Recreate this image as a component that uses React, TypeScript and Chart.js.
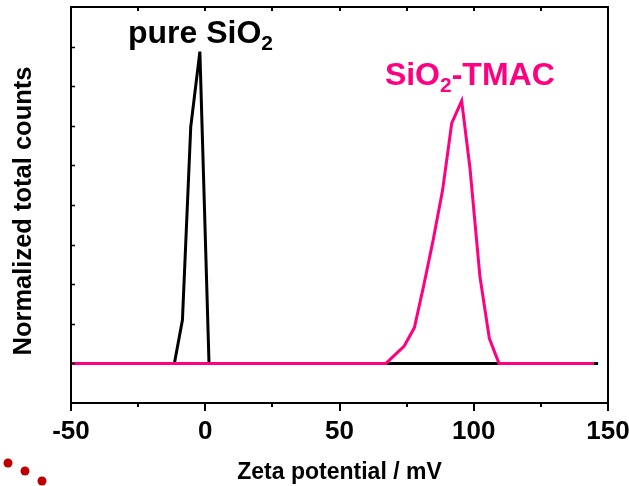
import React, { useEffect, useRef } from "react";
import { Chart, registerables } from "chart.js";

Chart.register(...registerables);

// ---- data (mV, normalized counts) ----
const pureX = [-50, -11.5, -8.5, -5.4, -2.0, 1.4, 146.3];
const pureY = [0, 0, 0.137, 0.747, 0.984, 0, 0];

const tmacX = [-50, 67.3, 74.1, 77.9, 81.4, 84.9, 88.4, 91.8, 95.5, 98.6, 102.3, 105.8, 109.4, 144.8];
const tmacY = [0, 0, 0.055, 0.113, 0.247, 0.39, 0.547, 0.758, 0.829, 0.616, 0.274, 0.079, 0, 0];

const xMajorTicks = [-50, 0, 50, 100, 150];
const xMinorTicks = [-25, 25, 75, 125];
const yTicks = [0, 0.125, 0.25, 0.375, 0.5, 0.625, 0.75, 0.875, 1.0];

const xTitle = "Zeta potential / mV";
const yTitle = "Normalized total counts";

const FONT = "'Liberation Sans', Arial, Helvetica, sans-serif";
const PINK = "#FF0080";

const toPoints = (xs: number[], ys: number[]) => xs.map((x, i) => ({ x, y: ys[i] }));

const framePlugin = {
  id: "frame",
  afterDraw(chart: any) {
    const { ctx, chartArea, scales } = chart;
    const { left, right, top, bottom } = chartArea;
    const xs = scales.x;
    const ys = scales.y;
    ctx.save();
    ctx.strokeStyle = "#000";
    ctx.lineWidth = 2;
    ctx.strokeRect(left, top, right - left, bottom - top);
    ctx.beginPath();
    const all = [...xMajorTicks, ...xMinorTicks];
    for (const v of all) {
      const px = Math.round(xs.getPixelForValue(v));
      const major = xMajorTicks.includes(v);
      ctx.moveTo(px, bottom);
      ctx.lineTo(px, bottom + (major ? 8 : 4));
      if (v > -50 && v < 150) {
        ctx.moveTo(px, top);
        ctx.lineTo(px, top + 4);
      }
    }
    ctx.stroke();
    ctx.lineWidth = 1.5;
    ctx.beginPath();
    for (const v of yTicks) {
      const py = Math.round(ys.getPixelForValue(v)) + 0.5;
      ctx.moveTo(left, py);
      ctx.lineTo(left + 4, py);
    }
    ctx.stroke();

    // y axis title
    ctx.save();
    ctx.translate(24, (top + bottom) / 2 + 6);
    ctx.rotate(-Math.PI / 2);
    ctx.fillStyle = "#000";
    ctx.font = `bold 25.5px ${FONT}`;
    ctx.textAlign = "center";
    ctx.textBaseline = "middle";
    ctx.fillText(yTitle, 0, 0);
    ctx.restore();

    // annotations
    const drawLabel = (main: string, sub: string, rest: string, xv: number, yv: number, color: string) => {
      let px = xs.getPixelForValue(xv);
      const py = ys.getPixelForValue(yv);
      ctx.fillStyle = color;
      ctx.textBaseline = "alphabetic";
      ctx.textAlign = "left";
      ctx.font = `bold 32px ${FONT}`;
      ctx.fillText(main, px, py);
      px += ctx.measureText(main).width;
      ctx.font = `bold 21px ${FONT}`;
      ctx.fillText(sub, px, py + 7);
      px += ctx.measureText(sub).width;
      if (rest) {
        ctx.font = `bold 32px ${FONT}`;
        ctx.fillText(rest, px, py);
      }
    };
    drawLabel("pure SiO", "2", "", -28.8, 1.01, "#000");
    drawLabel("SiO", "2", "-TMAC", 66.9, 0.88, PINK);

    // decorative dots bottom-left
    ctx.fillStyle = "#C00000";
    const dots = [
      [8, 463],
      [25, 471],
      [42, 481],
    ];
    for (const [dx, dy] of dots) {
      ctx.beginPath();
      ctx.arc(dx, dy, 4.5, 0, Math.PI * 2);
      ctx.fill();
    }
    ctx.restore();
  },
};

export default function App() {
  const ref = useRef<HTMLCanvasElement | null>(null);
  useEffect(() => {
    if (!ref.current) return;
    const chart = new Chart(ref.current, {
      type: "line",
      data: {
        datasets: [
          {
            label: "SiO2-TMAC",
            data: toPoints(tmacX, tmacY),
            borderColor: PINK,
            borderWidth: 3,
            pointRadius: 0,
            tension: 0,
            fill: false,
            order: 0,
          },
          {
            label: "pure SiO2",
            data: toPoints(pureX, pureY),
            borderColor: "#000",
            borderWidth: 3,
            pointRadius: 0,
            tension: 0,
            fill: false,
            order: 1,
          },
        ],
      },
      options: {
        responsive: false,
        animation: false,
        layout: { padding: { top: 7, right: 21, left: 0, bottom: 0 } },
        plugins: { legend: { display: false }, tooltip: { enabled: false } },
        scales: {
          x: {
            type: "linear",
            min: -50,
            max: 150,
            afterBuildTicks: (s: any) => {
              s.ticks = xMajorTicks.map((v) => ({ value: v }));
            },
            afterFit: (s: any) => {
              s.height = 83;
              s.paddingLeft = 0;
              s.paddingRight = 0;
            },
            grid: { display: false },
            border: { display: false },
            ticks: {
              color: "#000",
              font: { family: FONT, size: 26, weight: "bold" },
              padding: 5,
              maxRotation: 0,
              autoSkip: false,
            },
            title: {
              display: true,
              text: xTitle,
              color: "#000",
              font: { family: FONT, size: 23, weight: "bold" },
              padding: { top: 0, bottom: 0 },
            },
          },
          y: {
            type: "linear",
            min: -0.125,
            max: 1.125,
            afterFit: (s: any) => {
              s.width = 71;
              s.paddingTop = 0;
              s.paddingBottom = 0;
            },
            grid: { display: false },
            border: { display: false },
            ticks: { display: false },
            title: { display: false },
          },
        },
      },
      plugins: [framePlugin],
    } as any);
    return () => chart.destroy();
  }, []);
  return (
    <div style={{ position: "fixed", left: 0, top: 0, width: 629, height: 486, background: "#fff" }}>
      <canvas ref={ref} width={629} height={486} style={{ width: 629, height: 486 }} />
    </div>
  );
}
